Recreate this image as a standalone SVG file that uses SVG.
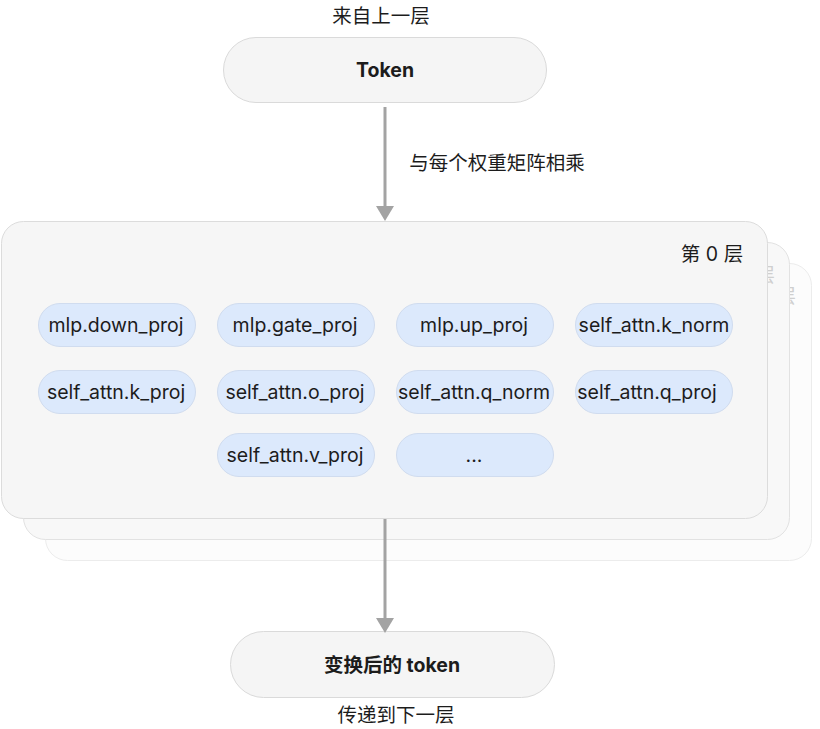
<svg xmlns="http://www.w3.org/2000/svg" width="820" height="729" viewBox="0 0 820 729">
<defs>
<style>
text{font-family:Inter,"Noto Sans","Noto Sans CJK SC",sans-serif;fill:#1c1c1c}
.t{font-size:19.5px;text-anchor:middle;dominant-baseline:central}
.b{font-weight:700}
.node{fill:#f5f5f5;stroke:#dadada;stroke-width:1}
.pill{fill:#dce9fc;stroke:#d0dcef;stroke-width:1}
.conn{stroke:#a3a3a3;stroke-width:3;fill:none}
.arrow{fill:#a3a3a3}
.ghost{fill:#cfcfcf;font-size:19.5px;text-anchor:end;dominant-baseline:central}
</style>
</defs>
<rect width="820" height="729" fill="#ffffff"/>

<g id="layer2">
<rect x="45.5" y="263.5" width="766" height="297" rx="22" fill="#fcfcfc" stroke="#ececec"/>
<text class="ghost" x="796" y="296">层</text>
</g>
<g id="layer1">
<rect x="23.5" y="242.5" width="766" height="297" rx="22" fill="#f8f8f8" stroke="#e2e2e2"/>
<text class="ghost" x="775" y="275">层</text>
</g>
<g id="layer0">
<rect x="1.5" y="221.5" width="766" height="297" rx="22" fill="#f6f6f6" stroke="#dcdcdc"/>
<text class="t" x="712" y="254">第 0 层</text>
</g>

<g id="token">
<rect class="node" x="223.5" y="37.5" width="323" height="65" rx="32.5"/>
<text class="t b" x="385" y="70">Token</text>
</g>
<text class="t" x="381" y="16">来自上一层</text>

<g id="out">
<rect class="node" x="230.5" y="631.5" width="324" height="66" rx="33"/>
<text class="t b" x="392" y="665">变换后的 token</text>
</g>
<text class="t" x="396" y="715">传递到下一层</text>

<g id="p1"><rect class="pill" x="38.5" y="303.5" width="157" height="43" rx="21.5"/><text class="t" x="116" y="325">mlp.down_proj</text></g>
<g id="p2"><rect class="pill" x="217.5" y="303.5" width="157" height="43" rx="21.5"/><text class="t" x="295" y="325">mlp.gate_proj</text></g>
<g id="p3"><rect class="pill" x="396.5" y="303.5" width="157" height="43" rx="21.5"/><text class="t" x="474" y="325">mlp.up_proj</text></g>
<g id="p4"><rect class="pill" x="575.5" y="303.5" width="157" height="43" rx="21.5"/><text class="t" x="654" y="325">self_attn.k_norm</text></g>
<g id="p5"><rect class="pill" x="38.5" y="370.5" width="157" height="43" rx="21.5"/><text class="t" x="116" y="392">self_attn.k_proj</text></g>
<g id="p6"><rect class="pill" x="217.5" y="370.5" width="157" height="43" rx="21.5"/><text class="t" x="295" y="392">self_attn.o_proj</text></g>
<g id="p7"><rect class="pill" x="396.5" y="370.5" width="157" height="43" rx="21.5"/><text class="t" x="474" y="392">self_attn.q_norm</text></g>
<g id="p8"><rect class="pill" x="575.5" y="370.5" width="157" height="43" rx="21.5"/><text class="t" x="647" y="392">self_attn.q_proj</text></g>
<g id="p9"><rect class="pill" x="217.5" y="433.5" width="157" height="43" rx="21.5"/><text class="t" x="295" y="455">self_attn.v_proj</text></g>
<g id="p10"><rect class="pill" x="396.5" y="433.5" width="157" height="43" rx="21.5"/><text class="t" x="474" y="455">...</text></g>

<g id="connectors">
<line class="conn" x1="385" y1="107" x2="385" y2="207"/>
<path class="arrow" d="M376,206 L394,206 L385,221 Z"/>
<line class="conn" x1="385" y1="519" x2="385" y2="619"/>
<path class="arrow" d="M376,618 L394,618 L385,633 Z"/>
<text class="t" x="497" y="163">与每个权重矩阵相乘</text>
</g>
</svg>
